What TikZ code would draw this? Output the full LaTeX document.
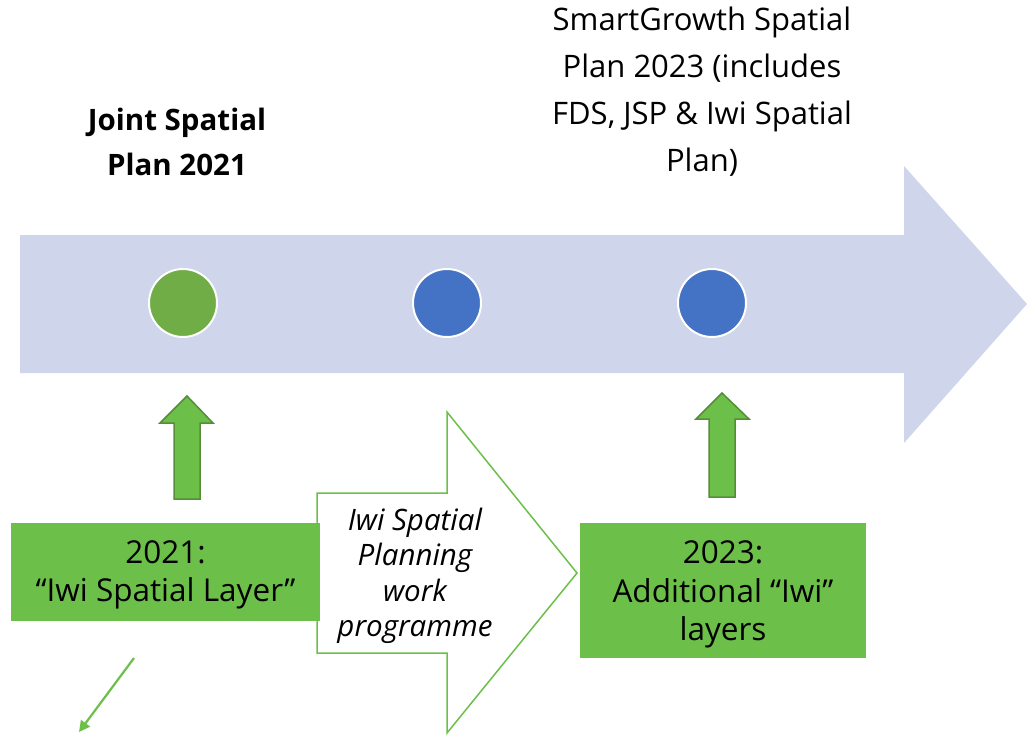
\documentclass[tikz,border=0pt]{standalone}
\usepackage{fontspec}
\setmainfont{Open Sans}
\usetikzlibrary{arrows.meta}
\definecolor{planblue}{HTML}{CFD5EA}
\definecolor{dotgreen}{HTML}{70AD47}
\definecolor{dotblue}{HTML}{4472C4}
\definecolor{layergreen}{HTML}{6CC04A}
\definecolor{edgegreen}{HTML}{558D38}
\begin{document}
\begin{tikzpicture}[x=1pt, y=-1pt,
		dot/.style = {circle, draw = white, line width = 2pt, minimum size = 68pt, inner sep = 0pt},
		layerbox/.style = {fill = layergreen, inner sep = 0pt},
		layertext/.style = {align = center, inner sep = 0pt, font = \fontsize{31.5}{38.5}\selectfont},
		toptext/.style = {align = center, font = \fontsize{31}{47}\selectfont},
		uparrow/.style = {fill = layergreen, draw = edgegreen, line width = 1.5pt, line join = miter}]
	\useasboundingbox (0,0) rectangle (1027,734);
	% timeline
	\fill [planblue] (20,235) -- (904,235) -- (904,166) -- (1027,304) -- (904,443) -- (904,373) -- (20,373) -- cycle;
	\node [dot, fill = dotgreen] (jsp) at (183,303) {};
	\node [dot, fill = dotblue] (mid) at (447,303) {};
	\node [dot, fill = dotblue] (sgsp) at (712,303) {};
	\node [toptext, font = \fontsize{29.5}{45}\selectfont\bfseries] (jsplabel) at (177,142) {Joint Spatial\\Plan 2021};
	\node [toptext] (sgsplabel) at (702,92) {SmartGrowth Spatial\\Plan 2023 (includes\\FDS, JSP \& Iwi Spatial\\Plan)};
	% work programme
	\draw [layergreen, line width = 1.5pt, fill = white] (317,493) -- (447,493) -- (447,412) -- (577,573) -- (447,733) -- (447,653) -- (317,653) -- cycle;
	\node [align = center, font = \fontsize{29.5}{35.5}\selectfont\itshape] (work) at (415,576) {Iwi Spatial\\Planning\\work\\programme};
	% layers
	\node [layerbox, minimum width = 309pt, minimum height = 98pt] (layer21) at (165.5,572) {};
	\node [layertext] (layer21text) at ([yshift = -3pt]layer21.center) {2021:\\“Iwi Spatial Layer”};
	\node [layerbox, minimum width = 286pt, minimum height = 135pt] (layer23) at (723,590.5) {};
	\node [layertext] (layer23text) at ([yshift = -4pt]layer23.center) {2023:\\Additional “Iwi”\\layers};
	\draw [uparrow] (174,499) -- (174,423) -- (160,423) -- (187,396) -- (213,423) -- (200,423) -- (200,499) -- cycle;
	\draw [uparrow] (709,497) -- (709,419) -- (696,419) -- (722,393) -- (749,419) -- (735,419) -- (735,497) -- cycle;
	\coordinate (from) at (134,658);
	\coordinate (to) at (79,732);
	\draw [layergreen, line width = 2.2pt, -{Triangle[length = 11pt, width = 11pt]}] (from) -- (to);
\end{tikzpicture}
\end{document}
